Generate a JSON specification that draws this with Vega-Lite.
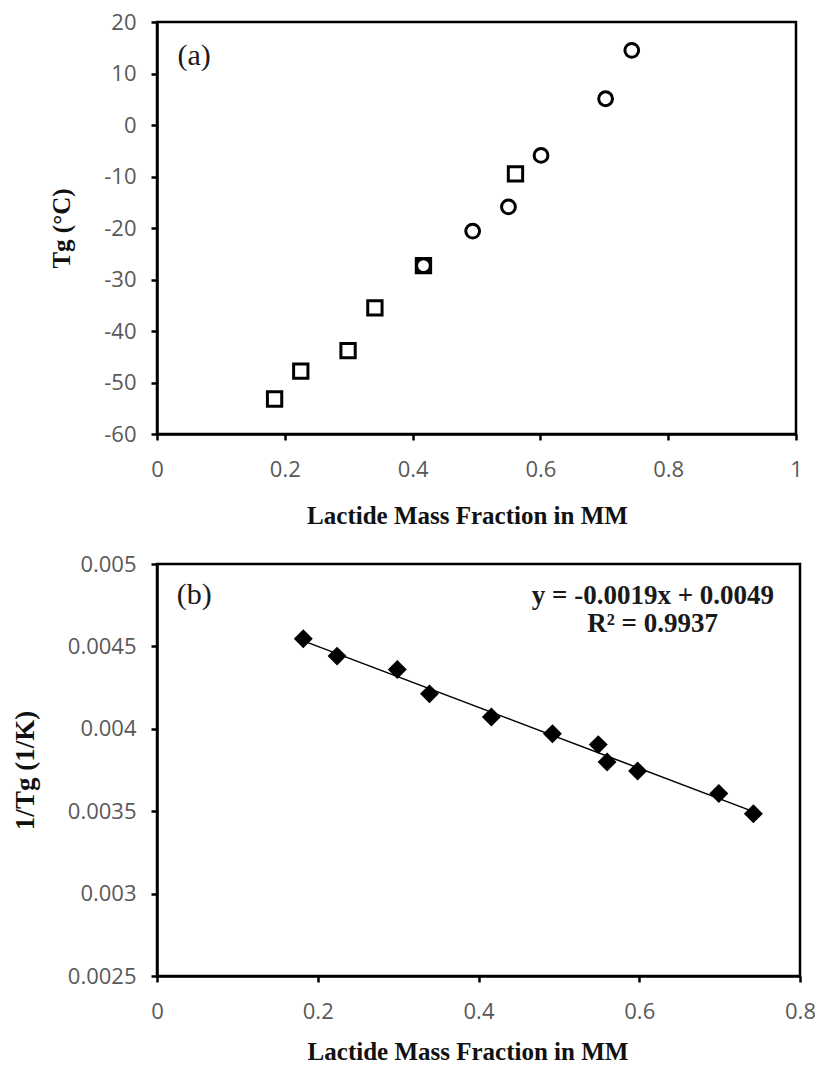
{
  "$schema": "https://vega.github.io/schema/vega-lite/v6.json",
  "background": "white",
  "padding": {"left": 10, "top": 9, "right": 10, "bottom": 0},
  "datasets": {
    "tg": [
      {"fraction": 0.184, "tg": -53.2, "series": "square"},
      {"fraction": 0.225, "tg": -47.8, "series": "square"},
      {"fraction": 0.299, "tg": -43.8, "series": "square"},
      {"fraction": 0.341, "tg": -35.5, "series": "square"},
      {"fraction": 0.417, "tg": -27.3, "series": "square"},
      {"fraction": 0.561, "tg": -9.5, "series": "square"},
      {"fraction": 0.417, "tg": -27.3, "series": "circle"},
      {"fraction": 0.494, "tg": -20.6, "series": "circle"},
      {"fraction": 0.55, "tg": -15.9, "series": "circle"},
      {"fraction": 0.601, "tg": -5.9, "series": "circle"},
      {"fraction": 0.702, "tg": 5.1, "series": "circle"},
      {"fraction": 0.743, "tg": 14.5, "series": "circle"}
    ],
    "inv": [
      {"fraction": 0.182, "inv": 0.004546},
      {"fraction": 0.224, "inv": 0.004441},
      {"fraction": 0.299, "inv": 0.00436},
      {"fraction": 0.339, "inv": 0.004212},
      {"fraction": 0.416, "inv": 0.004071},
      {"fraction": 0.492, "inv": 0.00397},
      {"fraction": 0.549, "inv": 0.003904},
      {"fraction": 0.56, "inv": 0.003799},
      {"fraction": 0.598, "inv": 0.003744},
      {"fraction": 0.699, "inv": 0.003607},
      {"fraction": 0.742, "inv": 0.003484}
    ]
  },
  "spacing": 21,
  "vconcat": [
    {
      "width": 639,
      "height": 412,
      "layer": [
        {
          "data": {"name": "tg"},
          "transform": [{"filter": "datum.series === 'square'"}],
          "mark": {"type": "point", "shape": "square", "filled": false, "color": "black", "strokeWidth": 3, "size": 205, "opacity": 1},
          "encoding": {
            "x": {"field": "fraction", "type": "quantitative", "scale": {"domain": [0, 1], "nice": false},
              "axis": {"title": "Lactide Mass Fraction in MM", "values": [0, 0.2, 0.4, 0.6, 0.8, 1], "format": ".1~f", "titleX": 310, "titleY": 81, "titleAlign": "center", "titleBaseline": "middle"}},
            "y": {"field": "tg", "type": "quantitative", "scale": {"domain": [-60, 20], "nice": false, "zero": false},
              "axis": {"title": "Tg (°C)", "values": [-60, -50, -40, -30, -20, -10, 0, 10, 20], "labelExpr": "datum.value < 0 ? '-' + abs(datum.value) : '' + datum.value", "titleX": -96, "titleY": 206, "titleAlign": "center", "titleBaseline": "middle"}}
          }
        },
        {
          "data": {"name": "tg"},
          "transform": [{"filter": "datum.series === 'circle'"}],
          "mark": {"type": "point", "shape": "circle", "filled": false, "color": "black", "strokeWidth": 3, "size": 190, "opacity": 1},
          "encoding": {
            "x": {"field": "fraction", "type": "quantitative"},
            "y": {"field": "tg", "type": "quantitative"}
          }
        },
        {
          "data": {"values": [{}]},
          "mark": {"type": "text", "font": "Liberation Serif", "fontSize": 30, "color": "#1a1a1a", "align": "center", "baseline": "middle"},
          "encoding": {
            "x": {"datum": 0.058, "type": "quantitative"},
            "y": {"datum": 13.4, "type": "quantitative"},
            "text": {"value": "(a)"}
          }
        }
      ]
    },
    {
      "width": 643,
      "height": 412,
      "layer": [
        {
          "data": {"name": "inv"},
          "transform": [{"regression": "inv", "on": "fraction"}],
          "mark": {"type": "line", "color": "black", "strokeWidth": 1.5},
          "encoding": {
            "x": {"field": "fraction", "type": "quantitative", "scale": {"domain": [0, 0.8], "nice": false},
              "axis": {"title": "Lactide Mass Fraction in MM", "values": [0, 0.2, 0.4, 0.6, 0.8], "format": ".1~f", "titleX": 310.5, "titleY": 75, "titleAlign": "center", "titleBaseline": "middle"}},
            "y": {"field": "inv", "type": "quantitative", "scale": {"domain": [0.0025, 0.005], "nice": false, "zero": false},
              "axis": {"title": "1/Tg (1/K)", "titleFontSize": 27, "values": [0.0025, 0.003, 0.0035, 0.004, 0.0045, 0.005], "format": ".4~f", "titleX": -131.5, "titleY": 206, "titleAlign": "center", "titleBaseline": "middle"}}
          }
        },
        {
          "data": {"name": "inv"},
          "mark": {"type": "point", "shape": "diamond", "filled": true, "color": "black", "size": 360, "opacity": 1},
          "encoding": {
            "x": {"field": "fraction", "type": "quantitative"},
            "y": {"field": "inv", "type": "quantitative"}
          }
        },
        {
          "data": {"values": [{}]},
          "mark": {"type": "text", "font": "Liberation Serif", "fontSize": 30, "color": "#1a1a1a", "align": "center", "baseline": "middle"},
          "encoding": {
            "x": {"datum": 0.0463, "type": "quantitative"},
            "y": {"datum": 0.004812, "type": "quantitative"},
            "text": {"value": "(b)"}
          }
        },
        {
          "data": {"values": [{}]},
          "mark": {"type": "text", "font": "Liberation Serif", "fontWeight": "bold", "fontSize": 27, "color": "#1a1a1a", "align": "center", "baseline": "middle"},
          "encoding": {
            "x": {"datum": 0.617, "type": "quantitative"},
            "y": {"datum": 0.004808, "type": "quantitative"},
            "text": {"value": "y = -0.0019x + 0.0049"}
          }
        },
        {
          "data": {"values": [{}]},
          "mark": {"type": "text", "font": "Liberation Serif", "fontWeight": "bold", "fontSize": 27, "color": "#1a1a1a", "align": "center", "baseline": "middle"},
          "encoding": {
            "x": {"datum": 0.6166, "type": "quantitative"},
            "y": {"datum": 0.004637, "type": "quantitative"},
            "text": {"value": "R² = 0.9937"}
          }
        }
      ]
    }
  ],
  "config": {
    "view": {"stroke": "black", "strokeWidth": 2.5},
    "axis": {
      "grid": false,
      "domainColor": "black",
      "domainWidth": 2.5,
      "tickColor": "black",
      "tickWidth": 2.5,
      "tickSize": 6,
      "labelFont": "Open Sans",
      "labelFontSize": 22,
      "labelColor": "#595959",
      "labelPadding": 15,
      "labelFlush": false,
      "labelOverlap": false,
      "titleFont": "Liberation Serif",
      "titleFontWeight": "bold",
      "titleFontSize": 25,
      "titleColor": "#111111"
    },
    "axisX": {"labelPadding": 19}
  }
}
